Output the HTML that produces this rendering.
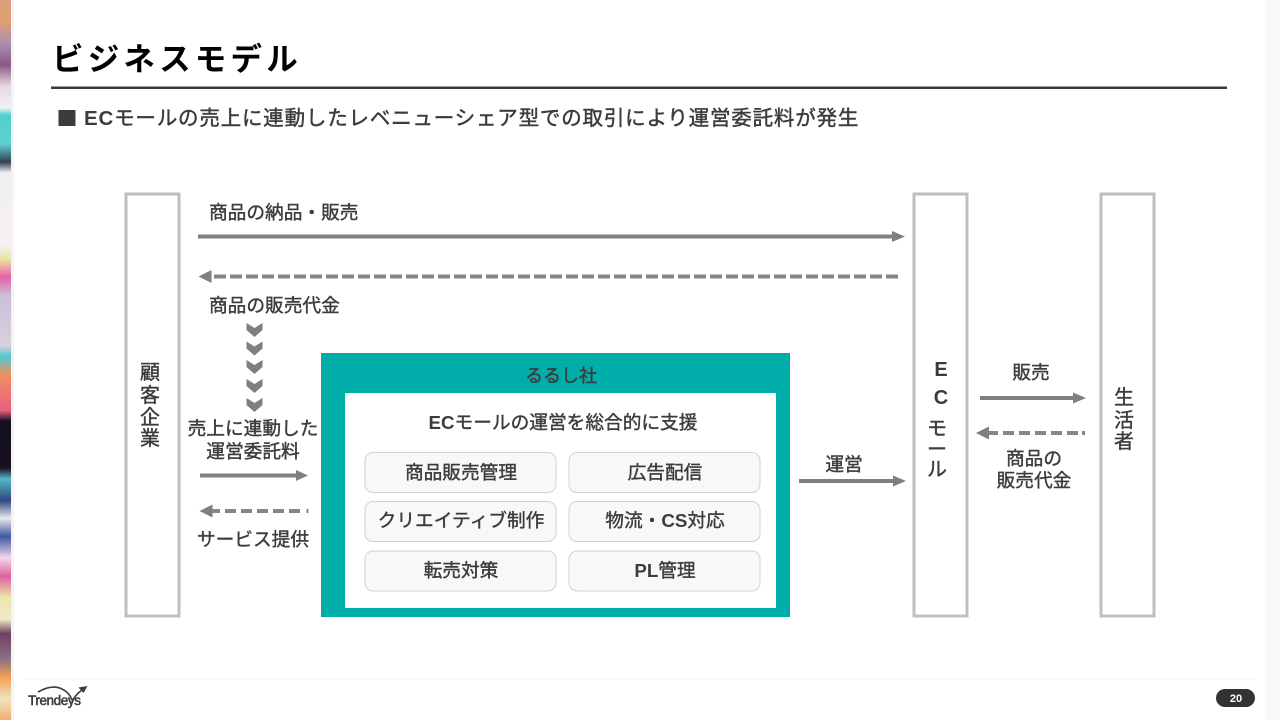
<!DOCTYPE html>
<html lang="ja"><head><meta charset="utf-8"><style>
html,body{margin:0;padding:0;background:#fff}
svg{display:block}
text{font-family:"Liberation Sans","Noto Sans CJK JP",sans-serif;font-weight:400;fill:#3c3c3c;stroke:#3c3c3c;stroke-width:.4px}
tspan.b{font-weight:700;stroke:none}
.m{text-anchor:middle}
</style></head><body>
<svg width="1280" height="720" viewBox="0 0 1280 720" xmlns="http://www.w3.org/2000/svg">
<defs>
<linearGradient id="strip" x1="0" y1="0" x2="0" y2="1">
<stop offset="0" stop-color="#d8a080"/><stop offset=".03" stop-color="#e0a070"/><stop offset=".06" stop-color="#a890b0"/><stop offset=".09" stop-color="#8a5a85"/><stop offset=".12" stop-color="#e8d8e0"/><stop offset=".15" stop-color="#eef2f2"/><stop offset=".16" stop-color="#50d0d0"/><stop offset=".2" stop-color="#60d0d0"/><stop offset=".225" stop-color="#304050"/><stop offset=".24" stop-color="#f0eef2"/><stop offset=".34" stop-color="#f6f0f4"/><stop offset=".36" stop-color="#e8e4a0"/><stop offset=".385" stop-color="#e860a8"/><stop offset=".41" stop-color="#c8c0d8"/><stop offset=".48" stop-color="#d8d0dc"/><stop offset=".495" stop-color="#50c8d0"/><stop offset=".52" stop-color="#f09060"/><stop offset=".57" stop-color="#e86080"/><stop offset=".585" stop-color="#101020"/><stop offset=".65" stop-color="#181020"/><stop offset=".665" stop-color="#50b8c8"/><stop offset=".695" stop-color="#304880"/><stop offset=".72" stop-color="#e8e8f0"/><stop offset=".745" stop-color="#4058a0"/><stop offset=".775" stop-color="#f0d8e8"/><stop offset=".8" stop-color="#e060a0"/><stop offset=".83" stop-color="#e8e8a8"/><stop offset=".86" stop-color="#f0e8c8"/><stop offset=".88" stop-color="#704060"/><stop offset=".915" stop-color="#8a7088"/><stop offset=".94" stop-color="#f0a050"/><stop offset=".97" stop-color="#f0e4c0"/><stop offset="1" stop-color="#f0b070"/>
</linearGradient>
</defs>
<rect width="1280" height="720" fill="#fff"/>
<rect x="0" y="0" width="11" height="720" fill="url(#strip)"/>
<rect x="11" y="0" width="3" height="720" fill="#f5f3f5"/>
<rect x="1265" y="0" width="15" height="720" fill="#f8f8f8"/>

<text x="52" y="70" font-size="31.500" letter-spacing="4.200" style="fill:#000;stroke:none;font-weight:700">ビジネスモデル</text>
<rect x="51" y="86.500" width="1176" height="2.500" fill="#3a3a3a"/>
<rect x="58.500" y="110" width="17" height="16" fill="#3c3c3c"/>
<text x="84" y="125" font-size="20.500" letter-spacing="0.810" style="stroke-width:.45px"><tspan class="b">EC</tspan>モールの売上に連動したレベニューシェア型での取引により運営委託料が発生</text>

<g fill="#fff" stroke="#bfbfbf" stroke-width="3">
<rect x="126" y="194" width="53" height="422"/>
<rect x="914" y="194" width="53" height="422"/>
<rect x="1101" y="194" width="53" height="422"/>
</g>
<g font-size="20">
<text class="m" x="150" y="379">顧</text><text class="m" x="150" y="402">客</text><text class="m" x="150" y="424">企</text><text class="m" x="150" y="445">業</text>
<text class="m" x="941" y="376" style="font-weight:700;stroke:none">E</text><text class="m" x="941" y="404" style="font-weight:700;stroke:none">C</text><text class="m" x="937" y="435">モ</text><text class="m" x="937" y="456">ー</text><text class="m" x="937" y="476">ル</text>
<text class="m" x="1124" y="404">生</text><text class="m" x="1124" y="427">活</text><text class="m" x="1124" y="448">者</text>
</g>

<rect x="321" y="353" width="469" height="264" fill="#00ada9"/>
<rect x="345" y="393" width="431" height="215" fill="#fff"/>
<text class="m" x="561" y="382" font-size="18">るるし社</text>
<text class="m" x="563" y="429" font-size="18.700"><tspan class="b">EC</tspan>モールの運営を総合的に支援</text>
<g fill="#f8f8f8" stroke="#d2d2d2" stroke-width="1">
<rect x="365" y="452.500" width="191" height="40" rx="8"/><rect x="569" y="452.500" width="191" height="40" rx="8"/>
<rect x="365" y="501.500" width="191" height="40" rx="8"/><rect x="569" y="501.500" width="191" height="40" rx="8"/>
<rect x="365" y="551" width="191" height="40" rx="8"/><rect x="569" y="551" width="191" height="40" rx="8"/>
</g>
<g font-size="18.700">
<text class="m" x="461" y="479">商品販売管理</text><text class="m" x="665" y="479">広告配信</text>
<text class="m" x="461" y="527">クリエイティブ制作</text><text class="m" x="665" y="527"><tspan>物流・</tspan><tspan class="b">CS</tspan>対応</text>
<text class="m" x="461" y="577">転売対策</text><text class="m" x="665" y="577"><tspan class="b">PL</tspan>管理</text>
</g>

<g fill="#7f7f7f">
<rect x="198" y="234.500" width="696" height="4"/><path d="M892 231l13 5.500-13 5.500z"/>
<path d="M198.500 276.500l13-6.500v13z"/>
<rect x="200" y="473.500" width="98" height="4"/><path d="M296 470l12 5.500-12 5.500z"/>
<path d="M199.500 511l13-6.500v13z"/>
<rect x="799" y="479" width="96" height="4"/><path d="M893 475.500l13 5.500-13 5.500z"/>
<rect x="980" y="396" width="95" height="4"/><path d="M1073 392.500l13 5.500-13 5.500z"/>
<path d="M976 433l13-6.500v13z"/>
<path d="M246.500 323l8 5 8-5v7l-8 7-8-7z"/>
<path d="M246.500 341.500l8 5 8-5v7l-8 7-8-7z"/>
<path d="M246.500 360l8 5 8-5v7l-8 7-8-7z"/>
<path d="M246.500 379l8 5 8-5v7l-8 7-8-7z"/>
<path d="M246.500 398l8 5 8-5v7l-8 7-8-7z"/>
</g>
<g stroke="#868686" stroke-width="4" fill="none">
<path d="M898 276.500H214" stroke-dasharray="12 4"/>
<path d="M300 511H212" stroke-dasharray="11 5"/><path d="M308.500 511H306.500"/>
<path d="M1078 433H988" stroke-dasharray="11 5"/><path d="M1085 433H1082"/>
</g>

<g font-size="18.700">
<text x="209" y="219">商品の納品・販売</text>
<text x="209" y="312">商品の販売代金</text>
<text class="m" x="253" y="435">売上に連動した</text>
<text class="m" x="253" y="458">運営委託料</text>
<text class="m" x="253" y="546">サービス提供</text>
<text class="m" x="844" y="471">運営</text>
<text class="m" x="1031" y="379">販売</text>
<text class="m" x="1034" y="465">商品の</text>
<text class="m" x="1034" y="487">販売代金</text>
</g>

<rect x="26" y="678.500" width="1228" height="1" fill="#f0f0f0"/>
<text x="28" y="705" font-size="13.500" letter-spacing="-.4" style="font-family:'Liberation Sans',sans-serif;fill:#3a3a3a;stroke:#3a3a3a;stroke-width:.5px">Trendeys</text>
<path d="M38 692Q52 684 62 689Q69 692 72 700" stroke="#3a3a3a" stroke-width="1.600" fill="none"/>
<path d="M72 702Q75 695 82 690" stroke="#3a3a3a" stroke-width="1.600" fill="none"/>
<path d="M87.500 686l-9 1.500 5 5.500z" fill="#3a3a3a"/>
<rect x="1216" y="689" width="39" height="18" rx="9" fill="#333"/>
<text class="m" x="1236" y="702" font-size="11" style="fill:#fff;stroke:none;font-weight:700">20</text>
</svg>
</body></html>
